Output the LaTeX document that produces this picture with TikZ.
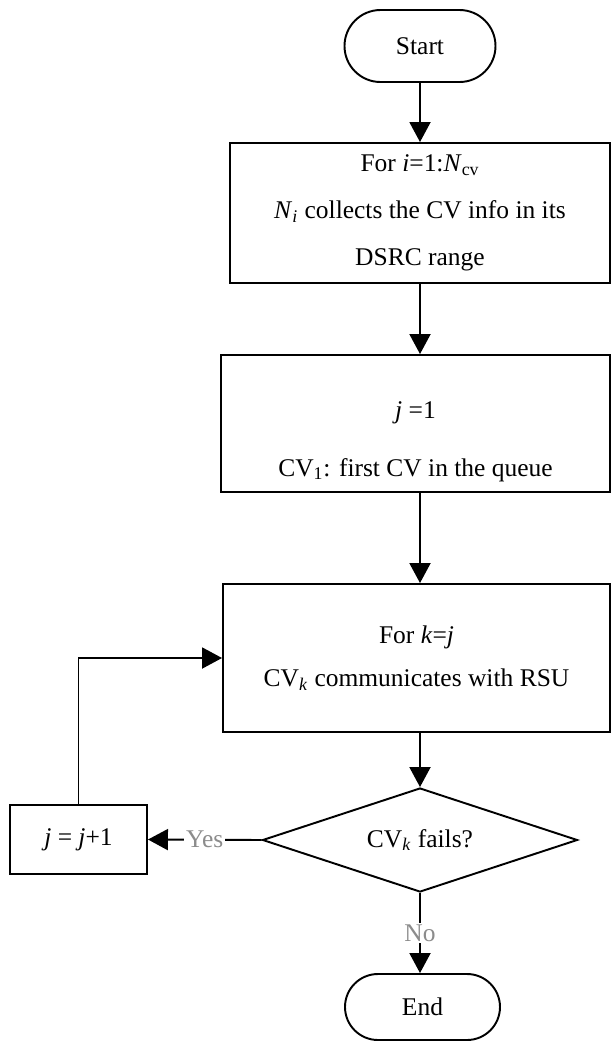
\documentclass[tikz,border=0pt]{standalone}
\usepackage{fontspec}
\setmainfont{Liberation Serif}
\usetikzlibrary{shapes.geometric,shapes.misc,arrows.meta}

\begin{document}
\begin{tikzpicture}[
    line width=1.1pt,
    font=\fontsize{14.5}{17.4}\selectfont,
    >={Triangle[length=0.4cm,width=0.42cm]},
    term/.style={draw,rounded rectangle,inner sep=0pt},
    procbox/.style={draw,rectangle,align=center,inner sep=0pt},
    decide/.style={draw,diamond,aspect=3,inner sep=0pt,minimum width=6.3cm,minimum height=2.08cm},
    answer/.style={fill=white,text=black!45,inner sep=1pt}
  ]

      \useasboundingbox (0,0) rectangle (12.28,-20.86);

      \node[term,minimum width=3.02cm,minimum height=1.44cm] (start) at (8.4,-0.92) {Start};

      \node[procbox,minimum width=7.6cm,minimum height=2.8cm] (collect) at (8.4,-4.26)
        {For \textit{i}=1:\textit{N}\textsubscript{cv}\\[9.3pt]
         \textit{N}\textsubscript{\textit{i}} collects the CV info in its\\[9.3pt]
         DSRC range};

      \node[procbox,minimum width=7.78cm,minimum height=2.74cm] (first) at (8.31,-8.47)
        {\rule{0pt}{30pt}\textit{j} =1\\[15.6pt]
         CV\textsubscript{1}: first CV in the queue};

      \node[procbox,minimum width=7.74cm,minimum height=2.96cm] (comm) at (8.33,-13.16)
        {For \textit{k}=\textit{j}\\[7pt]
         CV\textsubscript{\textit{k}} communicates with RSU};

      \node[decide] (fail) at (8.4,-16.8) {CV\textsubscript{\textit{k}} fails?};

      \node[procbox,minimum width=2.74cm,minimum height=1.38cm] (next) at (1.57,-16.79)
        {\textit{j} = \textit{j}+1};

      \node[term,minimum width=3.1cm,minimum height=1.32cm] (end) at (8.45,-20.14) {End};

      % main chain
      \draw[->] (start.south) -- (start.south |- collect.north);
      \draw[->] (collect.south -| start) -- (first.north -| start);
      \draw[->] (first.south -| start) -- (comm.north -| start);
      \draw[->] (comm.south -| start) -- (fail.north);

      % loop back
      \draw[->] (fail.west) -- node[answer] {Yes} (next.east);
      \draw[->] (next.north) -- (next.north |- comm.west) -- (comm.west);

      \draw[->] (fail.south) -- node[answer] {No} (fail.south |- end.north);

\end{tikzpicture}
\end{document}
